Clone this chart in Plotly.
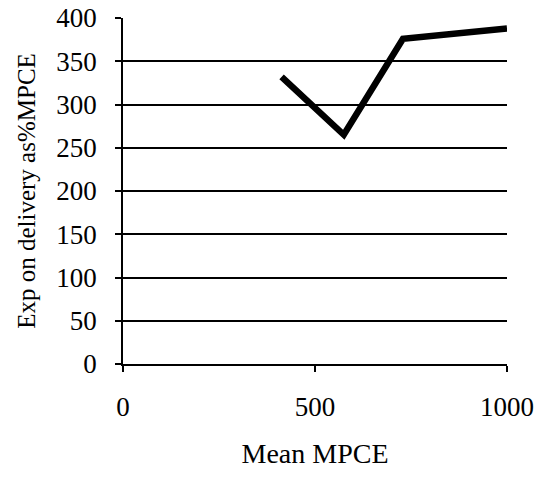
import plotly.graph_objects as go

mean_mpce = [413, 575, 729, 1000]
exp_delivery_pct = [332, 265, 376, 388]
x_ticks = [0, 500, 1000]
y_ticks = [0, 50, 100, 150, 200, 250, 300, 350, 400]

FONT = "Liberation Serif, Times New Roman, serif"

fig = go.Figure()
fig.add_trace(go.Scatter(
    x=mean_mpce, y=exp_delivery_pct, mode="lines",
    line=dict(color="black", width=6.5),
    showlegend=False,
))

fig.update_layout(
    width=542, height=478,
    margin=dict(l=123, r=35, t=18, b=114, autoexpand=False),
    paper_bgcolor="white", plot_bgcolor="white",
    font=dict(family=FONT, color="black", size=24),
    xaxis=dict(
        range=[0, 1000], tickvals=x_ticks, ticktext=[str(v) for v in x_ticks],
        showgrid=False, zeroline=False, automargin=False,
        showline=True, linecolor="black", linewidth=1.5,
        ticks="outside", ticklen=6, tickwidth=1.5, tickcolor="black",
        ticklabelstandoff=12,
        tickfont=dict(family=FONT, size=27),
        title=dict(text="Mean MPCE", font=dict(family=FONT, size=28), standoff=22),
    ),
    yaxis=dict(
        range=[0, 400], tickvals=y_ticks,
        showgrid=True, gridcolor="black", gridwidth=1.5,
        zeroline=False, automargin=False,
        showline=True, linecolor="black", linewidth=1.5,
        ticks="outside", ticklen=6, tickwidth=1.5, tickcolor="black",
        ticklabelstandoff=13,
        tickfont=dict(family=FONT, size=27),
        title=dict(text="Exp on delivery as%MPCE", font=dict(family=FONT, size=25), standoff=14),
    ),
)

fig.write_html("out.html")
